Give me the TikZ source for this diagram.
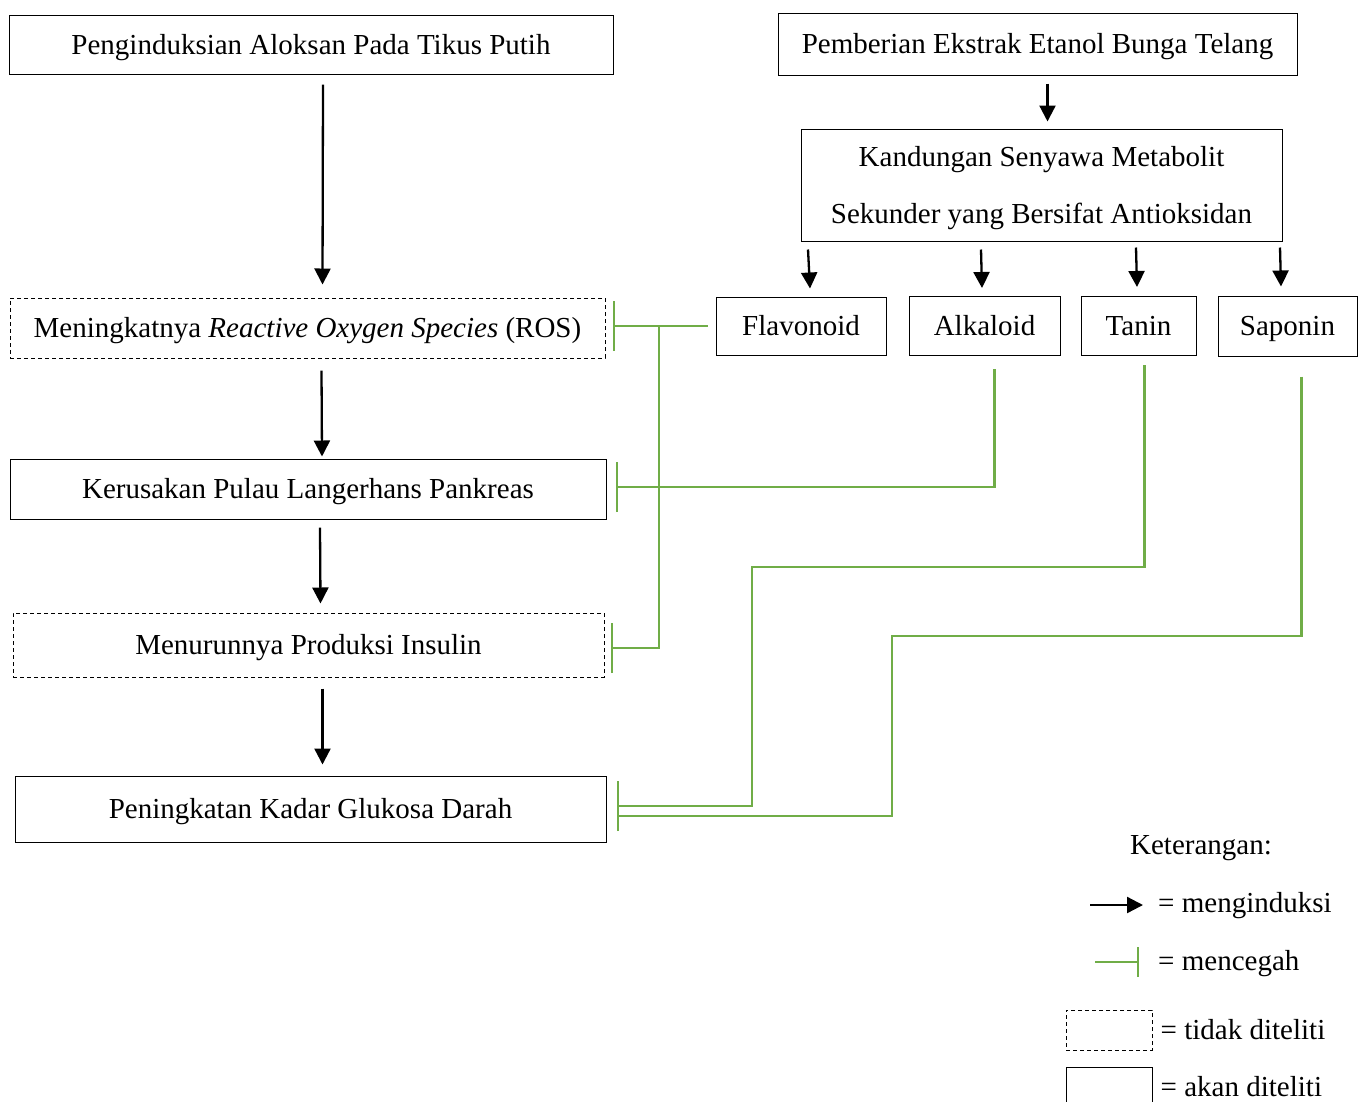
\documentclass[tikz,border=0pt]{standalone}
\usepackage{fontspec}
\setmainfont{Liberation Serif}
\usetikzlibrary{positioning,arrows.meta}
\definecolor{inhibgreen}{RGB}{112,173,71}

\begin{document}
\begin{tikzpicture}[x=1pt, y=-1pt,
                    font=\fontsize{29}{35}\selectfont,
                    boxnode/.style={draw, line width=1pt, inner sep=0pt, minimum height=60pt},
                    solidnode/.style={boxnode, text height=25pt, text depth=6pt},
                    dashnode/.style={solidnode, dash pattern=on 4pt off 3pt},
                    induce/.style={line width=2.3pt, -{Triangle[length=16pt,width=16pt]}},
                    inhibline/.style={inhibgreen, line width=2.3pt},
                    inhibit/.style={inhibline, -{Bar[width=50pt]}},
                ]
                    \useasboundingbox (0,0) rectangle (1365,1101);

                    %Nodes
                    \node[solidnode, minimum width=604pt, minimum height=59pt](aloksan) at (311,44.5) {Penginduksian Aloksan Pada Tikus Putih};
                    \node[solidnode, minimum width=519pt, minimum height=62pt](ekstrak) at (1037.5,44) {Pemberian Ekstrak Etanol Bunga Telang};
                    \node[boxnode, minimum width=481pt, minimum height=112pt, text depth=0pt, align=center, font=\fontsize{29}{57}\selectfont](metabolit) at (1041.5,185) {Kandungan Senyawa Metabolit\\Sekunder yang Bersifat Antioksidan};
                    \node[solidnode, minimum width=170pt, minimum height=58pt](flav) at (801,326) {Flavonoid};
                    \node[solidnode, minimum width=151pt, minimum height=59pt](alk)[right=22pt of flav] {Alkaloid};
                    \node[solidnode, minimum width=115pt, minimum height=59pt](tanin)[right=20pt of alk] {Tanin};
                    \node[solidnode, minimum width=139pt, minimum height=60pt](saponin)[right=21pt of tanin] {Saponin};

                    \node[dashnode, minimum width=595pt](ros) at (307.5,328) {Meningkatnya \textit{Reactive Oxygen Species} (ROS)};
                    \node[solidnode, minimum width=596pt](kerus) at (308,489) {Kerusakan Pulau Langerhans Pankreas};
                    \node[dashnode, minimum width=591pt, minimum height=64pt](insulin) at (308.5,645) {Menurunnya Produksi Insulin};
                    \node[solidnode, minimum width=591pt, minimum height=66pt](glukosa) at (310.5,809) {Peningkatan Kadar Glukosa Darah};

                    %Black arrows
                    \draw[induce]([xshift=12pt,yshift=-10pt]aloksan.south) -- ([xshift=15pt,yshift=13pt]ros.north);
                    \draw[induce]([xshift=14pt,yshift=-12pt]ros.south) -- ([xshift=14pt,yshift=2pt]kerus.north);
                    \draw[induce]([xshift=12pt,yshift=-8pt]kerus.south) -- ([xshift=12pt,yshift=9pt]insulin.north);
                    \draw[induce]([xshift=14pt,yshift=-11pt]insulin.south) -- ([xshift=12pt,yshift=11pt]glukosa.north);
                    \draw[induce]([xshift=10pt,yshift=-8pt]ekstrak.south) -- ([xshift=6pt,yshift=7pt]metabolit.north);
                    \draw[induce]([xshift=7pt,yshift=-8pt]flav.north |- metabolit.south) -- ([xshift=9pt,yshift=8pt]flav.north);
                    \draw[induce]([xshift=-3.5pt,yshift=-8pt]alk.north |- metabolit.south) -- ([xshift=-2.5pt,yshift=8pt]alk.north);
                    \draw[induce]([xshift=-2.5pt,yshift=-6pt]tanin.north |- metabolit.south) -- ([xshift=-1.5pt,yshift=9pt]tanin.north);
                    \draw[induce]([xshift=-7.5pt,yshift=-6pt]saponin.north |- metabolit.south) -- ([xshift=-6.5pt,yshift=9pt]saponin.north);

                    %Green lines
                    \coordinate (fork) at (659,326);
                    \coordinate (taninturn) at (752,567);
                    \coordinate (saponinturn) at (892,636);
                    \draw[inhibit]([xshift=-8pt]flav.west) -- ([xshift=7pt]flav.west -| ros.east);
                    \draw[inhibit](fork) |- ([xshift=6pt,yshift=-3pt]insulin.east);
                    \draw[inhibit]([xshift=10pt,yshift=-13pt]alk.south) |- ([xshift=9pt,yshift=2pt]kerus.east);
                    \draw[inhibit]([xshift=6pt,yshift=-9pt]tanin.south) |- (taninturn) |- ([xshift=10pt,yshift=3pt]glukosa.east);
                    \draw[inhibline]([xshift=14pt,yshift=-20pt]saponin.south) |- (saponinturn) |- ([xshift=10pt,yshift=-7pt]glukosa.east);

                    %Legend
                    \node[text height=25pt, text depth=6pt](legtitle) at (1201,845) {Keterangan:};
                    \coordinate (legarrowstart) at (1090,905);
                    \coordinate (legarrowend) at (1143,905);
                    \draw[induce](legarrowstart) -- (legarrowend);
                    \node[anchor=west, inner sep=0pt](leginduce) at (1158,906) {= menginduksi};
                    \coordinate (legbarstart) at (1095,962);
                    \coordinate (legbarend) at (1139,962);
                    \draw[inhibline, -{Bar[width=30pt]}](legbarstart) -- (legbarend);
                    \node[anchor=west, inner sep=0pt](leginhibit) at (1158,964) {= mencegah};
                    \node[boxnode, dash pattern=on 4pt off 3pt, minimum width=86pt, minimum height=40pt](legdash) at (1109,1030) {};
                    \node[inner sep=0pt, text height=25pt, text depth=6pt](legdashtext)[right=8pt of legdash] {= tidak diteliti};
                    \node[boxnode, minimum width=86pt, minimum height=40pt](legsolid) at (1109,1087) {};
                    \node[inner sep=0pt, text height=25pt, text depth=6pt](legsolidtext)[right=8pt of legsolid] {= akan diteliti};
                \end{tikzpicture}
\end{document}
